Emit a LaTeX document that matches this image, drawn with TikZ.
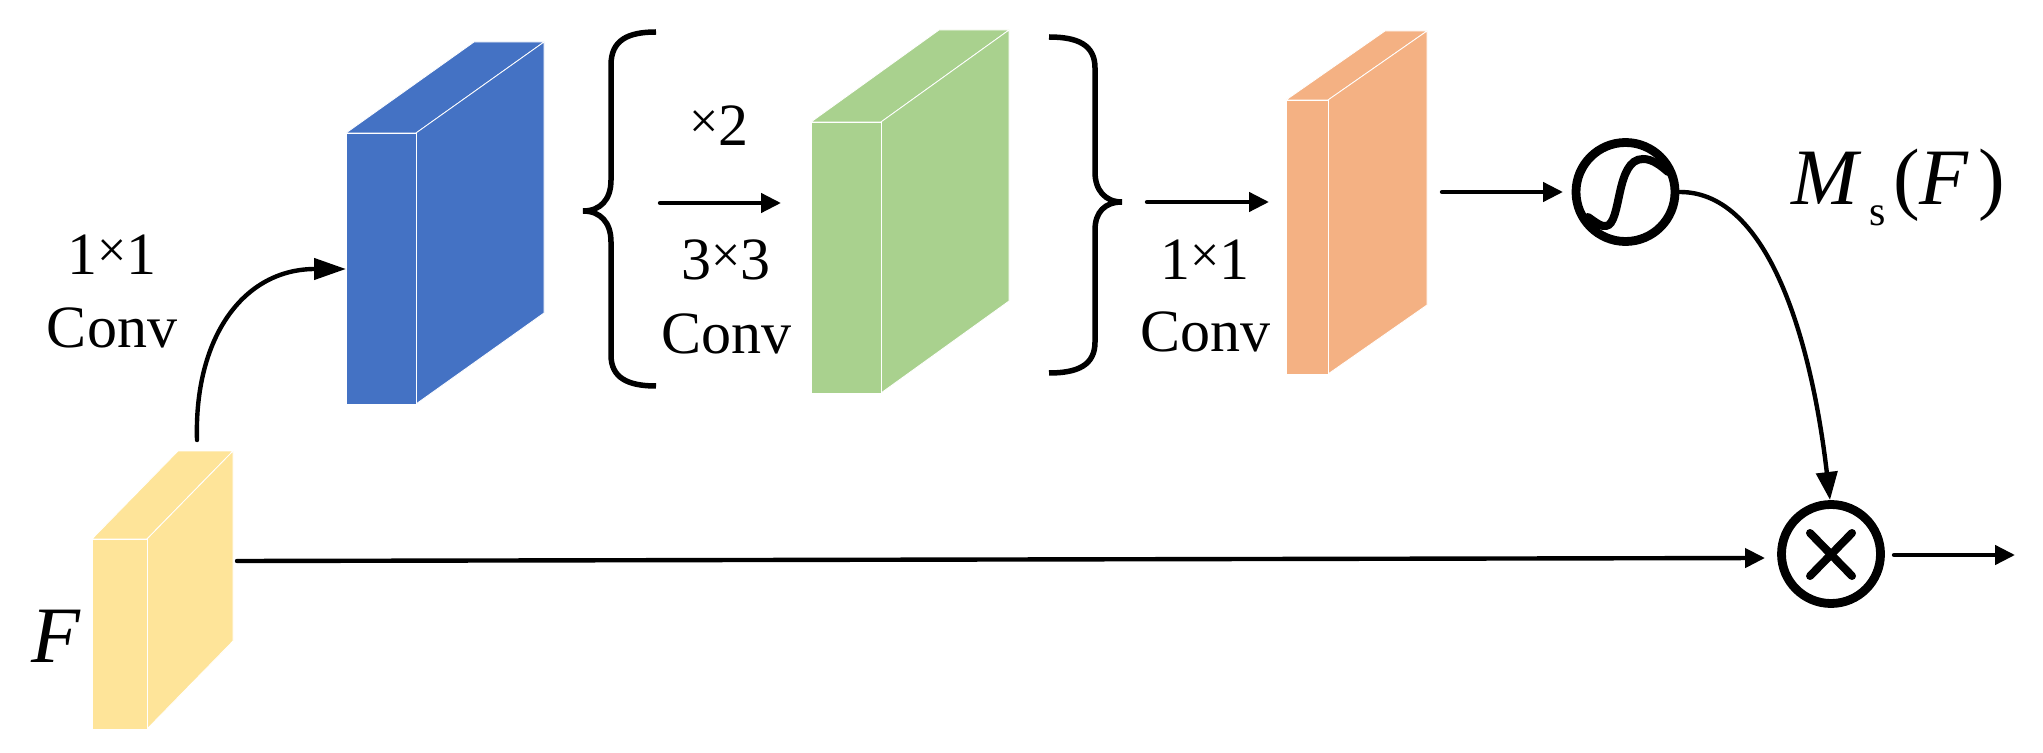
\documentclass[tikz,border=0pt]{standalone}
\usepackage{xcolor}
\usepackage{fontspec}
\setmainfont{Liberation Serif}
\usetikzlibrary{arrows.meta}

\definecolor{mapyellow}{RGB}{254,228,153}
\definecolor{mapblue}{RGB}{68,114,196}
\definecolor{mapgreen}{RGB}{169,209,142}
\definecolor{maporange}{RGB}{244,177,131}

\newcommand{\featmap}[8]{
    \fill [#2, draw=white, thin] (#3,#4) -- ++(#7,-#8) -- ++(#5,0) -- ++(-#7,#8) -- cycle;
    \fill [#2, draw=white, thin] (#3+#5,#4) -- ++(#7,-#8) -- ++(0,#6) -- ++(-#7,#8) -- cycle;
    \node [mapface, fill=#2, minimum width=#5*0.5pt, minimum height=#6*0.5pt] (#1) at (#3,#4) {};
}
\newcommand{\tm}{\raisebox{3.5pt}{\fontsize{26}{28}\selectfont ×}}

\begin{document}
\begin{tikzpicture}[
    x=0.5pt, y=-0.5pt,
    mapface/.style={rectangle, draw=white, thin, anchor=north west, inner sep=0pt, outer sep=0pt},
    txt/.style={anchor=base, inner sep=0pt, align=center, font=\fontsize{30}{36}\selectfont},
    var/.style={anchor=base west, inner sep=0pt, font=\fontsize{40}{44}\selectfont},
    op/.style={circle, draw, line width=4.4pt, minimum size=49.5pt, inner sep=0pt},
    arrow/.style={line width=2.2pt, line cap=round, -{Triangle[length=10pt,width=9.5pt]}},
    brace/.style={line width=2.75pt}
]

\useasboundingbox (0,0) rectangle (2043,753);

\featmap{feat}{mapyellow}{92}{539}{55}{190}{86}{88}
\featmap{blue}{mapblue}{346}{133}{70}{271}{128}{91}
\featmap{green}{mapgreen}{811}{122}{70}{271}{128}{92}
\featmap{orange}{maporange}{1286}{100}{42}{274}{99}{69}

\node [op] (sigmoid) at (1625.5,192) {};
\node [op] (times) at (1831,554) {};
\draw [line width=4pt, line cap=round] (1588,217) .. controls (1598,224) and (1602,227) .. (1606,226) .. controls (1622,224) and (1615,159) .. (1643,159) .. controls (1652,159) and (1660,165) .. (1668,172);
\draw [line width=4pt, line cap=round] (1810,533) -- (1852,576);
\draw [line width=4pt, line cap=round] (1852,533) -- (1810,576);

\node [var] (flabel) at (31,662) {\textit{F}};
\node [var] (mlabel) at (1791,205) {\textit{M}\kern4pt\raisebox{-10.5pt}{\fontsize{21}{22}\selectfont s}\kern3.5pt(\textit{F}\kern4.5pt)};
\node [txt] (conva) at (112,275) {1\tm 1};
\node [txt, below of=conva, node distance=36.5pt] (convb) {Conv};
\node [txt] (times2) at (719,146) {\tm 2};
\node [txt] (conve) at (726,280) {3\tm 3};
\node [txt, below of=conve, node distance=36.5pt] (convf) {Conv};
\node [txt] (convc) at (1205,280) {1\tm 1};
\node [txt, below of=convc, node distance=36pt] (convd) {Conv};

\coordinate (fup) at (197,440);
\coordinate (fright) at (237,561);
\coordinate (timesin) at (1765,558);
\coordinate (bluein) at (346,269);
\coordinate (greenstart) at (660,203);
\coordinate (greenend) at (781,203);
\coordinate (bracestart) at (1147,202);
\coordinate (orangeend) at (1269,202);
\coordinate (orangestart) at (1442,192);
\coordinate (sigmoidin) at (1563,192);
\coordinate (timesout) at (1894,555);
\coordinate (outend) at (2015,555);
\coordinate (sigmoidout) at (1680,192);
\coordinate (timestop) at (1830,500);

\draw [arrow, -{Triangle[length=16pt,width=10.5pt]}] (fup) .. controls (194,338) and (243,269) .. (bluein);
\draw [arrow] (fright) -- (timesin);
\draw [arrow] (greenstart) -- (greenend);
\draw [arrow] (bracestart) -- (orangeend);
\draw [arrow] (orangestart) -- (sigmoidin);
\draw [arrow, -{Triangle[length=14pt,width=10.5pt]}] (sigmoidout) .. controls (1770,192) and (1812,345) .. (timestop);
\draw [arrow] (timesout) -- (outend);

\draw [brace] (656,32) .. controls (628,32) and (611,40) .. (611,65) -- (611,180) .. controls (611,200) and (600,211) .. (583,211) .. controls (600,211) and (611,222) .. (611,242) -- (611,355) .. controls (611,378) and (628,386) .. (656,386);
\draw [brace] (1049,37) .. controls (1078,37) and (1095,45) .. (1095,68) -- (1095,172) .. controls (1095,190) and (1105,202) .. (1122,202) .. controls (1105,202) and (1095,212) .. (1095,230) -- (1095,342) .. controls (1095,365) and (1078,373) .. (1049,373);

\end{tikzpicture}
\end{document}
